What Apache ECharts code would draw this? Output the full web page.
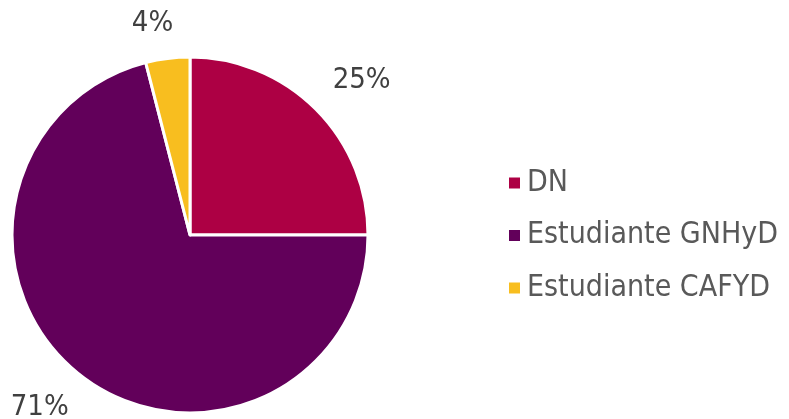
<!DOCTYPE html>
<html>
<head>
<meta charset="utf-8">
<script src="https://cdn.jsdelivr.net/npm/echarts@6/dist/echarts.min.js"></script>
<style>
html,body{margin:0;padding:0;background:#fff;}
#chart{width:789px;height:419px;}
</style>
</head>
<body>
<div id="chart"></div>
<script>
var categories = ['DN', 'Estudiante GNHyD', 'Estudiante CAFYD'];
var values = [25, 71, 4];
var colors = ['#AD0044', '#62005A', '#F8BE1F'];
// small nudges so the labels sit where the original ones are
var labelShift = [[-8, -9], [10, 10], [14, -7]];

function drawPie(){
	var data = [];
	for (var i = 0; i < categories.length; i++) {
		data.push({name: categories[i], value: values[i], itemStyle: {color: colors[i]}});
	}
	var option = {
		animation: false,
		legend: {
			orient: 'vertical',
			left: 502,
			top: 163,
			itemWidth: 13,
			itemHeight: 13,
			itemGap: 22.5,
			icon: 'rect',
			data: categories,
			textStyle: {
				fontFamily: 'DejaVu Sans Condensed',
				fontSize: 30,
				lineHeight: 30,
				padding: [0, 0, 0, 1],
				color: '#595959'
			}
		},
		series: [{
			type: 'pie',
			center: [190, 235],
			radius: 178,
			startAngle: 90,
			clockwise: true,
			data: data,
			itemStyle: {borderColor: '#fff', borderWidth: 3},
			label: {
				show: true,
				position: 'outside',
				formatter: '{c}%',
				overflow: 'none',
				fontFamily: 'DejaVu Sans Condensed',
				fontSize: 29,
				color: '#404040'
			},
			labelLine: {show: false, length: 28, length2: 0},
			labelLayout: function(params){
				var s = labelShift[params.dataIndex];
				return {dx: s[0], dy: s[1]};
			}
		}]
	};
	var myChart = echarts.init(document.getElementById('chart'));
	myChart.setOption(option);
}
drawPie();
</script>
</body>
</html>
